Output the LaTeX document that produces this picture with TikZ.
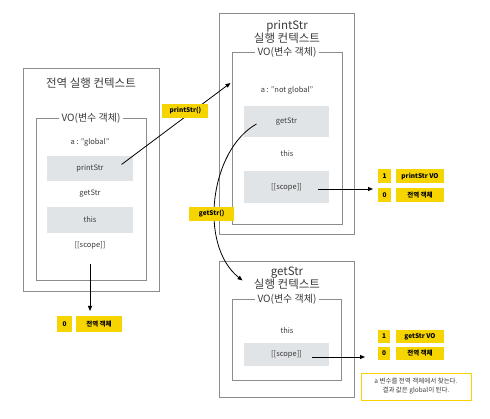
\documentclass[tikz,border=0pt]{standalone}
\usepackage{fontspec}
\setmainfont{Noto Sans CJK KR}
\usetikzlibrary{calc, positioning}
\usetikzlibrary{arrows.meta}
\definecolor{boxgray}{HTML}{8C8C8C}
\definecolor{slotgray}{HTML}{E1E4E7}
\definecolor{tagyellow}{HTML}{F5D400}
\definecolor{txtgray}{HTML}{3A3A3A}

\begin{document}
\begin{tikzpicture}[x=1pt, y=-1pt,
  ctxbox/.style={draw=boxgray, line width=0.9pt, inner sep=0pt},
  title/.style={font=\fontsize{11.5}{13}\selectfont, text=txtgray, align=center},
  volabel/.style={fill=white, font=\fontsize{10}{12}\selectfont, text=txtgray, inner xsep=3pt, inner ysep=1pt},
  item/.style={font=\fontsize{7.5}{9}\selectfont, text=txtgray, inner sep=1pt},
  slot/.style={item, fill=slotgray},
  tag/.style={fill=tagyellow, font=\bfseries\fontsize{6.5}{8}\selectfont, text=black, inner sep=0pt},
  arr/.style={-{Triangle[length=5pt,width=4pt]}, line width=0.8pt}]

\useasboundingbox (0,0) rectangle (490,419);

\coordinate (pvoin) at (230.5,83);    % left side of printStr VO
\coordinate (gvoin) at (242.5,280.5); % top of getStr context
\coordinate (gend) at (90,311);
\coordinate (pend) at (373,189);
\coordinate (send) at (365,357);

% global context
\node[ctxbox, minimum width=136pt, minimum height=223pt] (glob) at (91,179.5) {};
\node[ctxbox, minimum width=110pt, minimum height=162pt] (globvo) at (91,199) {};
\node[title] (globtitle) at (91,83) {전역 실행 컨텍스트};
\node[volabel] (globvolabel) at (91,118) {VO(변수 객체)};
\node[item] (ga) at (90,142) {a : "global"};
\node[slot, minimum width=86pt, minimum height=25pt] (gprint) at (90,168.5) {printStr};
\node[item] (gget) at (90,194) {getStr};
\node[slot, minimum width=86pt, minimum height=26pt] (gthis) at (90,220) {this};
\node[item] (gscope) at (90,245) {[[scope]]};

% printStr context
\node[ctxbox, minimum width=135pt, minimum height=221pt] (prt) at (286.5,123.5) {};
\node[ctxbox, minimum width=110pt, minimum height=172pt] (prtvo) at (287,138) {};
\node[title] (prttitle) at (287,31.5) {printStr\\실행 컨텍스트};
\node[volabel] (prtvolabel) at (287,52) {VO(변수 객체)};
\node[item] (pa) at (287,90) {a : "not global"};
\node[slot, minimum width=85pt, minimum height=31pt] (pget) at (286.5,121.5) {getStr};
\node[item] (pthis) at (287,154) {this};
\node[slot, minimum width=85pt, minimum height=32pt] (pscope) at (286.5,187) {[[scope]]};

% getStr context
\node[ctxbox, minimum width=135pt, minimum height=136pt] (gst) at (286.5,329) {};
\node[ctxbox, minimum width=109pt, minimum height=81pt] (gstvo) at (286.5,339.5) {};
\node[title] (gsttitle) at (287,278.5) {getStr\\실행 컨텍스트};
\node[volabel] (gstvolabel) at (287,299) {VO(변수 객체)};
\node[item] (sthis) at (287,331) {this};
\node[slot, minimum width=85pt, minimum height=23pt] (sscope) at (286.5,354.5) {[[scope]]};

% scope chains
\node[tag, minimum width=15pt, minimum height=16pt] (g0) at (64.5,324) {0};
\node[tag, minimum width=46pt, minimum height=16pt] (g0obj) at (99,324) {전역 객체};

\node[tag, minimum width=13pt, minimum height=14pt] (p1) at (384.5,176) {1};
\node[tag, minimum width=48pt, minimum height=14pt] (p1obj) at (420,176) {printStr VO};
\node[tag, minimum width=13pt, minimum height=14pt] (p0) at (384.5,195) {0};
\node[tag, minimum width=48pt, minimum height=14pt] (p0obj) at (420,195) {전역 객체};

\node[tag, minimum width=12pt, minimum height=13pt] (s1) at (384,336.5) {1};
\node[tag, minimum width=48pt, minimum height=13pt] (s1obj) at (420,336.5) {getStr VO};
\node[tag, minimum width=12pt, minimum height=13pt] (s0) at (384,353.5) {0};
\node[tag, minimum width=48pt, minimum height=13pt] (s0obj) at (420,353.5) {전역 객체};

\node[draw=tagyellow, fill=white, line width=0.8pt, minimum width=110pt, minimum height=27pt,
  align=center, font=\fontsize{6.5}{9}\selectfont, text=txtgray] (note) at (416,386.5)
  {a 변수를 전역 객체에서 찾는다.\\결과 값은 global이 된다.};

% arrows
\draw[arr] ($(gscope)+(0,19)$) -- (gend);
\draw[arr] ($(pscope)+(31.5,2)$) -- (pend);
\draw[arr] ($(sscope)+(25.5,2.5)$) -- (send);

\draw[arr] ($(gprint)+(31.5,-4)$) -- node[tag, pos=0.587, yshift=6pt, minimum width=46pt, minimum height=14pt] (lprint) {printStr()} (pvoin);
\draw[arr] ($(pget)+(-30,2.5)$) .. controls (210,150) and (198,245) .. node[tag, pos=0.58, xshift=-3pt, minimum width=45pt, minimum height=14pt] (lget) {getStr()} (gvoin);
\end{tikzpicture}
\end{document}
